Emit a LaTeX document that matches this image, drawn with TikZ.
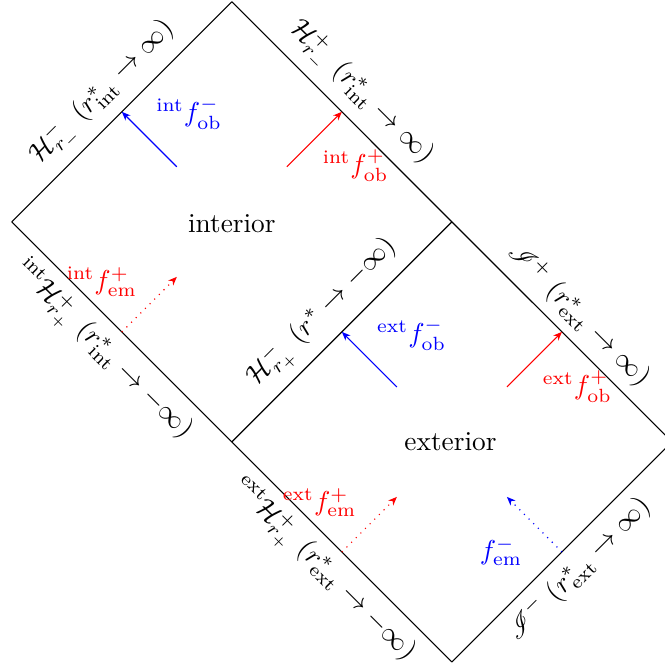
\documentclass[tikz,border=0pt]{standalone}
\usepackage{amsmath,amssymb,mathrsfs}
\usepackage{tikz}
\usetikzlibrary{arrows.meta,calc}

\begin{document}
\begin{tikzpicture}[>={Stealth[length=3.2pt,width=2.6pt]},
  ray/.style={->},
  horizon/.style={sloped,midway}]
\useasboundingbox (-2.98,-2.906) rectangle (5.567,5.68);
\coordinate (L) at (-2.828,2.828);
\coordinate (T) at (0,5.657);
\coordinate (R) at (2.828,2.828);
\coordinate (M) at (0,0);
\coordinate (ER) at (5.657,0);
\coordinate (EB) at (2.828,-2.828);

\draw (L) -- node[horizon,above]{$\mathcal{H}^-_{r_-}\ (r^*_{\text{int}}\to\infty)$} (T);
\draw (T) -- node[horizon,above]{$\mathcal{H}^+_{r_-}\ (r^*_{\text{int}}\to\infty)$} (R);
\draw (L) -- node[horizon,below]{${}^{\text{int}}\mathcal{H}^+_{r_+}\ (r^*_{\text{int}}\to-\infty)$} (M);
\draw (M) -- node[horizon,above]{$\mathcal{H}^-_{r_+}\ (r^*\to-\infty)$} (R);
\draw (R) -- node[horizon,above]{$\mathscr{I}^+\ (r^*_{\text{ext}}\to\infty)$} (ER);
\draw (M) -- node[horizon,below]{${}^{\text{ext}}\mathcal{H}^+_{r_+}\ (r^*_{\text{ext}}\to-\infty)$} (EB);
\draw (EB) -- node[horizon,below]{$\mathscr{I}^-\ (r^*_{\text{ext}}\to\infty)$} (ER);

\node (int) at (0,2.8) {interior};
\node (ext) at (2.81,0) {exterior};

\coordinate (h1) at ($(L)!0.5!(T)$);
\coordinate (h2) at ($(T)!0.5!(R)$);
\coordinate (h3) at ($(L)!0.5!(M)$);
\coordinate (h4) at ($(M)!0.5!(R)$);
\coordinate (h5) at ($(R)!0.5!(ER)$);
\coordinate (h6) at ($(M)!0.5!(EB)$);
\coordinate (h7) at ($(EB)!0.5!(ER)$);
\coordinate (s1) at ($(h1)+(-45:1)$);
\coordinate (s2) at ($(h2)+(225:1)$);
\coordinate (e3) at ($(h3)+(45:1)$);
\coordinate (s4) at ($(h4)+(-45:1)$);
\coordinate (s5) at ($(h5)+(225:1)$);
\coordinate (e6) at ($(h6)+(45:1)$);
\coordinate (e7) at ($(h7)+(135:1)$);

\draw[ray,blue] (s1) -- (h1);
\draw[ray,red] (s2) -- (h2);
\draw[ray,red,dotted] (h3) -- (e3);
\draw[ray,blue] (s4) -- (h4);
\draw[ray,red] (s5) -- (h5);
\draw[ray,red,dotted] (h6) -- (e6);
\draw[ray,blue,dotted] (h7) -- (e7);

\node[blue] (l1) at (-0.55,4.22) {${}^{\text{int}}f^-_{\text{ob}}$};
\node[red] (l2) at (1.59,3.55) {${}^{\text{int}}f^+_{\text{ob}}$};
\node[red] (l3) at (-1.67,2.06) {${}^{\text{int}}f^+_{\text{em}}$};
\node[blue] (l4) at (2.31,1.38) {${}^{\text{ext}}f^-_{\text{ob}}$};
\node[red] (l5) at (4.44,0.71) {${}^{\text{ext}}f^+_{\text{ob}}$};
\node[red] (l6) at (1.13,-0.78) {${}^{\text{ext}}f^+_{\text{em}}$};
\node[blue] (l7) at (3.46,-1.41) {$f^-_{\text{em}}$};
\end{tikzpicture}
\end{document}
